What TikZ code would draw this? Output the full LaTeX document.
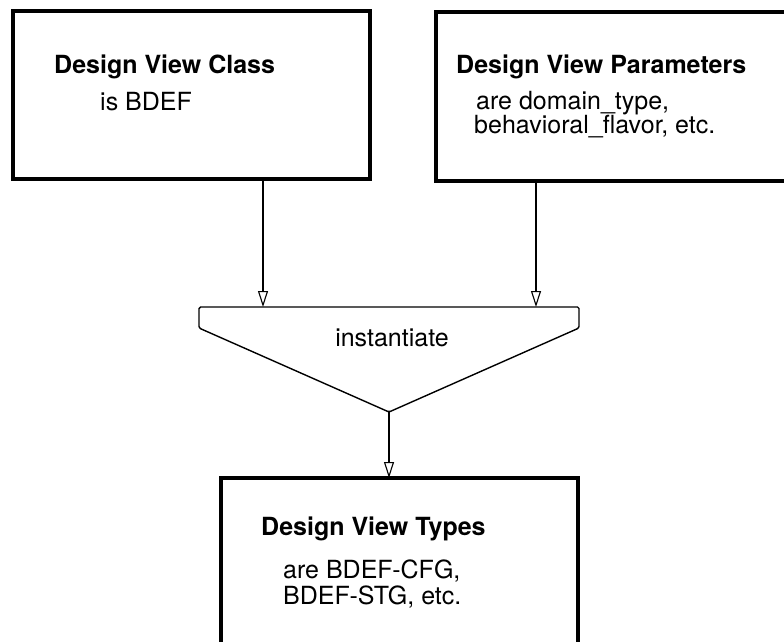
\documentclass[tikz,border=0pt]{standalone}
\usepackage{fontspec}
\setmainfont{TeX Gyre Heros}
\usetikzlibrary{arrows.meta}
\begin{document}
\begin{tikzpicture}[x=1pt,y=-1pt,
  box/.style={draw, line width=3.6pt, anchor=north west, inner sep=0pt, outer sep=0pt},
  title/.style={anchor=base west, inner sep=0pt, font=\fontsize{25}{25}\selectfont\bfseries},
  body/.style={anchor=base west, inner sep=0pt, font=\fontsize{25}{25}\selectfont},
  flow/.style={line width=1.3pt, -{Triangle[open, length=16pt, width=10pt, line width=1.1pt]}},
  funnel/.style={draw, line width=1.4pt, rounded corners=1.5pt, line join=round}]
\useasboundingbox (0,0) rectangle (784,641);
\clip (0,0) rectangle (784,641);

% boxes
\node[box, minimum width=357pt, minimum height=168pt] (cls) at (13,11) {};
\node[box, minimum width=420pt, minimum height=169pt] (par) at (436,12) {};
\node[box, minimum width=357pt, minimum height=230pt] (typ) at (221,478) {};

% box texts
\node[title] (clsT) at (54,73) {Design View Class};
\node[body]  (clsB) at (100,110) {is BDEF};
\node[title] (parT) at (456,73) {Design View Parameters};
\node[body]  (parB1) at (476,109) {are domain\_type,};
\node[body]  (parB2) at (474,133) {behavioral\_flavor, etc.};
\node[title] (typT) at (261,535) {Design View Types};
\node[body]  (typB1) at (283,578) {are BDEF-CFG,};
\node[body]  (typB2) at (283,604) {BDEF-STG, etc.};

% instantiation funnel
\coordinate (inL) at (263,307);
\coordinate (inR) at (536,307);
\coordinate (apex) at (389,412);
\draw[funnel] (199,328) -- (199,307) -- (579,307) -- (579,328) -- (apex) -- cycle;
\node[body, anchor=base] (inst) at (392,346) {instantiate};

% connectors
\draw[flow] (cls.south -| inL) -- (inL);
\draw[flow] (par.south -| inR) -- (inR);
\draw[flow] (apex) -- (typ.north -| apex);
\end{tikzpicture}
\end{document}
